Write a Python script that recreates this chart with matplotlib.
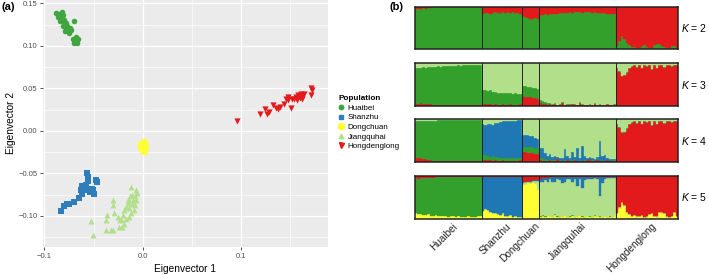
import numpy as np
import matplotlib
matplotlib.use("Agg")
import matplotlib.pyplot as plt
from matplotlib.lines import Line2D

plt.rcParams['font.family'] = ['Liberation Sans', 'DejaVu Sans']
plt.rcParams['mathtext.fontset'] = 'custom'
plt.rcParams['mathtext.rm'] = 'Liberation Sans'
plt.rcParams['mathtext.it'] = 'Liberation Sans:italic'

# ---------------- data: PCA (panel a) ----------------
populations = ['Huaibei', 'Shanzhu', 'Dongchuan', 'Jiangquhai', 'Hongdenglong']

huaibei_x = [-0.088, -0.085, -0.082, -0.086, -0.083, -0.081, -0.084, -0.080, -0.079, -0.081,
             -0.078, -0.077, -0.079, -0.076, -0.074, -0.073, -0.070, -0.068, -0.066, -0.069,
             -0.067, -0.070, -0.071, -0.077, -0.084, -0.080, -0.078, -0.075]
huaibei_y = [0.139, 0.138, 0.140, 0.134, 0.131, 0.136, 0.129, 0.128, 0.125, 0.123,
             0.122, 0.119, 0.118, 0.117, 0.121, 0.119, 0.129, 0.111, 0.108, 0.106,
             0.103, 0.104, 0.108, 0.124, 0.136, 0.131, 0.127, 0.115]

shanzhu_x = [-0.083, -0.080, -0.077, -0.075, -0.070, -0.065, -0.062, -0.063, -0.061, -0.058,
             -0.057, -0.056, -0.056, -0.058, -0.054, -0.052, -0.050, -0.051, -0.047, -0.046, -0.062]
shanzhu_y = [-0.094, -0.088, -0.086, -0.086, -0.083, -0.079, -0.074, -0.069, -0.068, -0.064,
             -0.050, -0.054, -0.059, -0.070, -0.072, -0.068, -0.074, -0.070, -0.058, -0.060, -0.065]

dongchuan_x = [-0.002, 0.001, 0.000, -0.001, 0.001, 0.002, -0.002]
dongchuan_y = [-0.015, -0.013, -0.018, -0.021, -0.024, -0.019, -0.019]

jiangquhai_x = [-0.053, -0.051, -0.037, -0.036, -0.030, -0.029, -0.030, -0.032, -0.037, -0.030,
                -0.024, -0.022, -0.020, -0.019, -0.017, -0.015, -0.014, -0.014, -0.013, -0.012,
                -0.011, -0.010, -0.008, -0.007, -0.009, -0.012, -0.014, -0.017, -0.019, -0.021,
                -0.015, -0.007, -0.023, -0.025, -0.011, -0.006, -0.008]
jiangquhai_y = [-0.106, -0.122, -0.105, -0.099, -0.087, -0.097, -0.081, -0.116, -0.116, -0.117,
                -0.113, -0.103, -0.099, -0.093, -0.089, -0.085, -0.081, -0.091, -0.077, -0.066,
                -0.086, -0.081, -0.077, -0.070, -0.093, -0.097, -0.101, -0.103, -0.109, -0.113,
                -0.081, -0.081, -0.105, -0.101, -0.075, -0.073, -0.087]

hongdenglong_x = [0.096, 0.120, 0.125, 0.127, 0.129, 0.133, 0.136, 0.138, 0.140, 0.144,
                  0.146, 0.148, 0.151, 0.152, 0.154, 0.156, 0.157, 0.158, 0.160, 0.161,
                  0.162, 0.162, 0.163, 0.165, 0.172, 0.172, 0.173, 0.148]
hongdenglong_y = [0.012, 0.020, 0.026, 0.020, 0.022, 0.031, 0.027, 0.026, 0.028, 0.032,
                  0.038, 0.036, 0.027, 0.038, 0.037, 0.040, 0.036, 0.042, 0.039, 0.044,
                  0.037, 0.042, 0.041, 0.044, 0.042, 0.050, 0.048, 0.040]

# ---------------- data: STRUCTURE (panel b), percent per individual ----------------
group_sizes = [27, 16, 7, 31, 25]

# K = 2 : red share (green = rest)
k2_red = ([5, 6, 5, 4, 5, 4, 3, 1, 1, 1, 1, 1, 1, 1, 1, 1, 1, 1, 1, 1, 1, 1, 1, 1, 1, 1, 1]
          + [17, 15, 14, 16, 15, 13, 14, 15, 13, 14, 12, 14, 13, 15, 14, 16]
          + [22, 24, 27, 28, 28, 27, 28]
          + [20, 19, 18, 19, 17, 18, 16, 17, 15, 15, 14, 14, 13, 14, 13, 12, 13, 14, 13, 12,
             13, 14, 13, 14, 15, 14, 15, 16, 17, 18, 18]
          + [92, 80, 70, 75, 85, 90, 94, 95, 96, 96, 92, 90, 95, 96, 97, 90, 88, 88, 92, 95,
             96, 97, 93, 92, 96])

# K = 3 : red, dark green (light green = rest)
k3_red = ([5, 5, 6, 5, 5, 4, 4, 3, 2, 2, 2, 2, 2, 1, 2, 2, 2, 1, 2, 1, 2, 1, 1, 1, 1, 2, 2]
          + [5, 4, 4, 5, 3, 4, 3, 3, 4, 3, 3, 4, 3, 3, 3, 4]
          + [22, 21, 20, 20, 19, 18, 17]
          + [6, 5, 4, 3, 4, 3, 5, 2, 3, 7, 2, 3, 2, 4, 3, 2, 6, 3, 2, 2, 3, 2, 5, 2, 3, 2, 2, 4, 2, 2, 3]
          + [88, 80, 70, 72, 78, 88, 92, 95, 90, 95, 88, 96, 92, 95, 85, 96, 88, 95, 96, 90,
             96, 95, 92, 96, 95])
k3_dkgreen = ([85, 84, 84, 86, 85, 87, 87, 89, 90, 91, 90, 91, 91, 93, 91, 92, 92, 94, 92, 94,
               93, 94, 95, 95, 95, 94, 94]
              + [32, 33, 30, 31, 30, 29, 28, 28, 27, 27, 26, 27, 25, 26, 24, 24]
              + [25, 26, 25, 24, 24, 23, 23]
              + [8, 6, 4, 3, 2, 2, 2, 1, 2, 2, 1, 1, 2, 1, 1, 1, 2, 1, 1, 1, 1, 1, 1, 1, 1, 1, 1, 1, 1, 1, 1]
              + [1] * 25)

# K = 4 : red, dark green, blue (light green = rest)
k4_red = ([8, 9, 8, 7, 6, 5, 4, 3, 3, 3, 3, 2, 3, 2, 2, 2, 3, 2, 2, 2, 2, 2, 2, 2, 2, 3, 3]
          + [5, 4, 5, 4, 3, 4, 3, 3, 4, 3, 3, 3, 3, 3, 3, 4]
          + [22, 22, 21, 20, 20, 19, 18]
          + [4, 3, 3, 2, 5, 3, 2, 6, 3, 2, 3, 4, 2, 3, 5, 2, 3, 2, 3, 4, 6, 3, 2, 5, 2, 3, 2, 4, 2, 2, 3]
          + [88, 80, 68, 70, 78, 88, 92, 95, 90, 95, 88, 96, 92, 95, 85, 96, 88, 95, 96, 90,
             96, 95, 92, 96, 95])
k4_dkgreen = ([87, 87, 87, 89, 90, 92, 92, 94, 94, 95, 95, 96, 96, 97, 97, 97, 96, 97, 97, 97,
               97, 97, 97, 97, 97, 96, 96]
              + [10, 12, 9, 8, 10, 7, 8, 7, 6, 6, 5, 6, 5, 5, 5, 5]
              + [14, 14, 15, 14, 15, 14, 14]
              + [6, 5, 3, 2, 2, 1, 2, 1, 1, 1, 1, 1, 1, 1, 1, 1, 1, 1, 1, 1, 1, 1, 1, 1, 1, 1, 1, 1, 1, 1, 1]
              + [1] * 25)
k4_blue = ([0] * 27
           + [73, 70, 76, 77, 74, 80, 81, 84, 85, 86, 88, 88, 89, 89, 90, 89]
           + [28, 27, 27, 26, 25, 24, 22]
           + [22, 25, 15, 10, 12, 8, 10, 4, 5, 6, 27, 8, 5, 20, 6, 30, 5, 35, 10, 4,
              5, 6, 4, 5, 45, 10, 12, 5, 4, 3, 3]
           + [0] * 25)

# K = 5 : yellow, dark green, blue, red (light green = rest)
k5_yellow = ([12, 10, 11, 9, 8, 10, 7, 6, 8, 5, 6, 7, 5, 4, 5, 6, 4, 5, 4, 4, 3, 5, 4, 3, 4, 5, 6]
             + [18, 22, 20, 15, 12, 14, 10, 8, 12, 6, 5, 8, 4, 5, 3, 4]
             + [80, 82, 85, 84, 86, 83, 70]
             + [4, 6, 3, 8, 5, 3, 9, 4, 3, 6, 8, 3, 4, 7, 3, 5, 8, 4, 3, 6, 4, 3, 7, 5, 4, 3, 6, 3, 4, 3, 5]
             + [12, 25, 38, 30, 15, 10, 5, 8, 4, 6, 8, 3, 4, 10, 12, 5, 4, 15, 14, 12,
                4, 3, 5, 15, 5])
k5_dkgreen = ([83, 84, 84, 87, 87, 86, 89, 90, 89, 92, 91, 90, 92, 93, 92, 92, 93, 92, 93, 93,
               95, 92, 94, 95, 94, 93, 92]
              + [0] * 16
              + [0] * 7
              + [3, 2, 2, 1, 1, 1, 1, 1, 1, 1, 1, 1, 1, 1, 1, 1, 1, 1, 1, 1, 1, 1, 1, 1, 1, 1, 1, 1, 1, 1, 1]
              + [0] * 25)
k5_blue = ([0] * 27
           + [79, 75, 78, 82, 86, 83, 88, 90, 85, 92, 93, 90, 94, 93, 95, 94]
           + [2, 2, 2, 2, 2, 2, 2]
           + [8, 10, 6, 10, 5, 12, 10, 4, 6, 15, 12, 5, 4, 10, 5, 20, 6, 25, 8, 4,
              3, 5, 3, 4, 45, 15, 5, 3, 2, 2, 2]
           + [0] * 25)
k5_red = ([5, 6, 5, 4, 5, 4, 4, 4, 3, 3, 3, 3, 3, 3, 3, 2, 3, 3, 3, 3, 2, 3, 2, 2, 2, 2, 2]
          + [3, 3, 2, 3, 2, 3, 2, 2, 3, 2, 2, 2, 2, 2, 2, 2]
          + [15, 13, 11, 11, 10, 10, 10]
          + [6, 5, 4, 4, 3, 3, 3, 3, 3, 2, 3, 3, 2, 3, 2, 3, 2, 3, 2, 2, 3, 2, 2, 2, 3, 2, 2, 2, 2, 2, 2]
          + [87, 74, 61, 69, 84, 89, 94, 91, 95, 93, 91, 96, 95, 89, 87, 94, 95, 84, 85, 87,
             95, 96, 94, 84, 94])

k_labels = ['2', '3', '4', '5']

# ---------------- colours ----------------
c_green = '#33A02C'
c_ltgreen = '#B2DF8A'
c_red = '#E31A1C'
c_blue = '#1F78B4'
c_yellow = '#FFFF33'
pca_colors = ['#3FA63F', '#2F7DBB', '#FFFF33', '#B2DF8A', '#E31A1C']

fig = plt.figure(figsize=(7.09, 2.75), dpi=100)

# ---------------- panel (a) ----------------
ax = fig.add_axes([43 / 709, 1 - 247 / 275, 285 / 709, 247 / 275])
ax.set_facecolor('#EBEBEB')
for s in ax.spines.values():
    s.set_visible(False)
ax.set_xlim(-0.1015, 0.189)
ax.set_ylim(-0.1365, 0.154)
ax.set_xticks([-0.1, 0.0, 0.1])
ax.set_xticklabels(['\u22120.1', '0.0', '0.1'])
ax.set_yticks([0.15, 0.10, 0.05, 0.0, -0.05, -0.10])
ax.set_yticklabels(['0.15', '0.10', '0.05', '0.00', '\u22120.05', '\u22120.10'])
ax.set_xticks([-0.05, 0.05, 0.15], minor=True)
ax.set_yticks([0.125, 0.075, 0.025, -0.025, -0.075, -0.125], minor=True)
ax.grid(True, which='major', color='white', lw=0.9)
ax.grid(True, which='minor', color='white', lw=0.45)
ax.set_axisbelow(True)
ax.tick_params(which='major', length=2.5, width=0.6, color='#333333', labelsize=5.5,
               labelcolor='#4D4D4D', pad=1.5)
ax.tick_params(which='minor', length=0)
ax.set_xlabel('Eigenvector 1', fontsize=7.3, labelpad=3)
ax.set_ylabel('Eigenvector 2', fontsize=7.3, labelpad=2)

xs = [huaibei_x, shanzhu_x, dongchuan_x, jiangquhai_x, hongdenglong_x]
ys = [huaibei_y, shanzhu_y, dongchuan_y, jiangquhai_y, hongdenglong_y]
markers = ['o', 's', 'o', '^', 'v']
sizes = [16, 14, 30, 18, 20]
for i in range(5):
    ax.scatter(xs[i], ys[i], marker=markers[i], s=sizes[i], c=pca_colors[i], linewidths=0)

handles = [Line2D([], [], ls='', marker=markers[i], color=pca_colors[i],
                  markersize=[3.2, 3.0, 4.5, 3.4, 3.6][i]) for i in range(5)]
leg = fig.legend(handles, populations, loc='upper left', bbox_to_anchor=(334 / 709, 1 - 91 / 275),
                 frameon=False, title='Population', fontsize=5.8, title_fontsize=5.9,
                 handlelength=0.8, handletextpad=0.4, labelspacing=0.25, borderpad=0,
                 alignment='left')
leg.get_title().set_fontweight('bold')

fig.text(1 / 709, 1 - 7 / 275, '(a)', fontsize=8, fontweight='bold', va='center', ha='left')
fig.text(390 / 709, 1 - 7 / 275, '(b)', fontsize=8, fontweight='bold', va='center', ha='left')

# ---------------- panel (b) ----------------
n = sum(group_sizes)
bounds = np.cumsum(group_sizes)
xpos = np.arange(n) + 0.5

def arr(v):
    return np.array(v, dtype=float) / 100.0

k2_r = arr(k2_red)
k3_r, k3_d = arr(k3_red), arr(k3_dkgreen)
k4_r, k4_d, k4_b = arr(k4_red), arr(k4_dkgreen), arr(k4_blue)
k5_y, k5_d, k5_b, k5_r = arr(k5_yellow), arr(k5_dkgreen), arr(k5_blue), arr(k5_red)

stacks = [
    [(1 - k2_r, c_green), (k2_r, c_red)],
    [(k3_r, c_red), (k3_d, c_green), (1 - k3_r - k3_d, c_ltgreen)],
    [(k4_r, c_red), (k4_d, c_green), (k4_b, c_blue), (1 - k4_r - k4_d - k4_b, c_ltgreen)],
    [(k5_y, c_yellow), (k5_d, c_green), (1 - k5_y - k5_d - k5_b - k5_r, c_ltgreen),
     (k5_b, c_blue), (k5_r, c_red)],
]

row_tops = [6.7, 63.3, 119.3, 176.0]
row_h = 42.5
bx0, bx1 = 415, 678
for r, stack in enumerate(stacks):
    bax = fig.add_axes([bx0 / 709, 1 - (row_tops[r] + row_h) / 275, (bx1 - bx0) / 709, row_h / 275])
    bottom = np.zeros(n)
    for vals, col in stack:
        vals = np.clip(vals, 0, None)
        bax.bar(xpos, vals, width=1.0, bottom=bottom, color=col, edgecolor=col, lw=0.25)
        bottom = bottom + vals
    for b in bounds[:-1]:
        bax.axvline(b, color='#222222', lw=0.7)
    bax.set_xlim(0, n)
    bax.set_ylim(0, 1)
    bax.set_xticks([])
    bax.set_yticks([])
    for s in bax.spines.values():
        s.set_linewidth(1.1)
        s.set_color('#222222')
    fig.text(707 / 709, 1 - (row_tops[r] + row_h / 2) / 275, '$K$ = ' + k_labels[r],
             fontsize=7.5, va='center', ha='right')
    if r == 3:
        starts = np.concatenate([[0], bounds[:-1]])
        for name, a, b in zip(populations, starts, bounds):
            bax.text((a + b) / 2 + 1.5, -0.06, name, rotation=45, rotation_mode='anchor',
                     ha='right', va='top', fontsize=7.2, color='#222222')

fig.savefig('out.png', dpi=100)
